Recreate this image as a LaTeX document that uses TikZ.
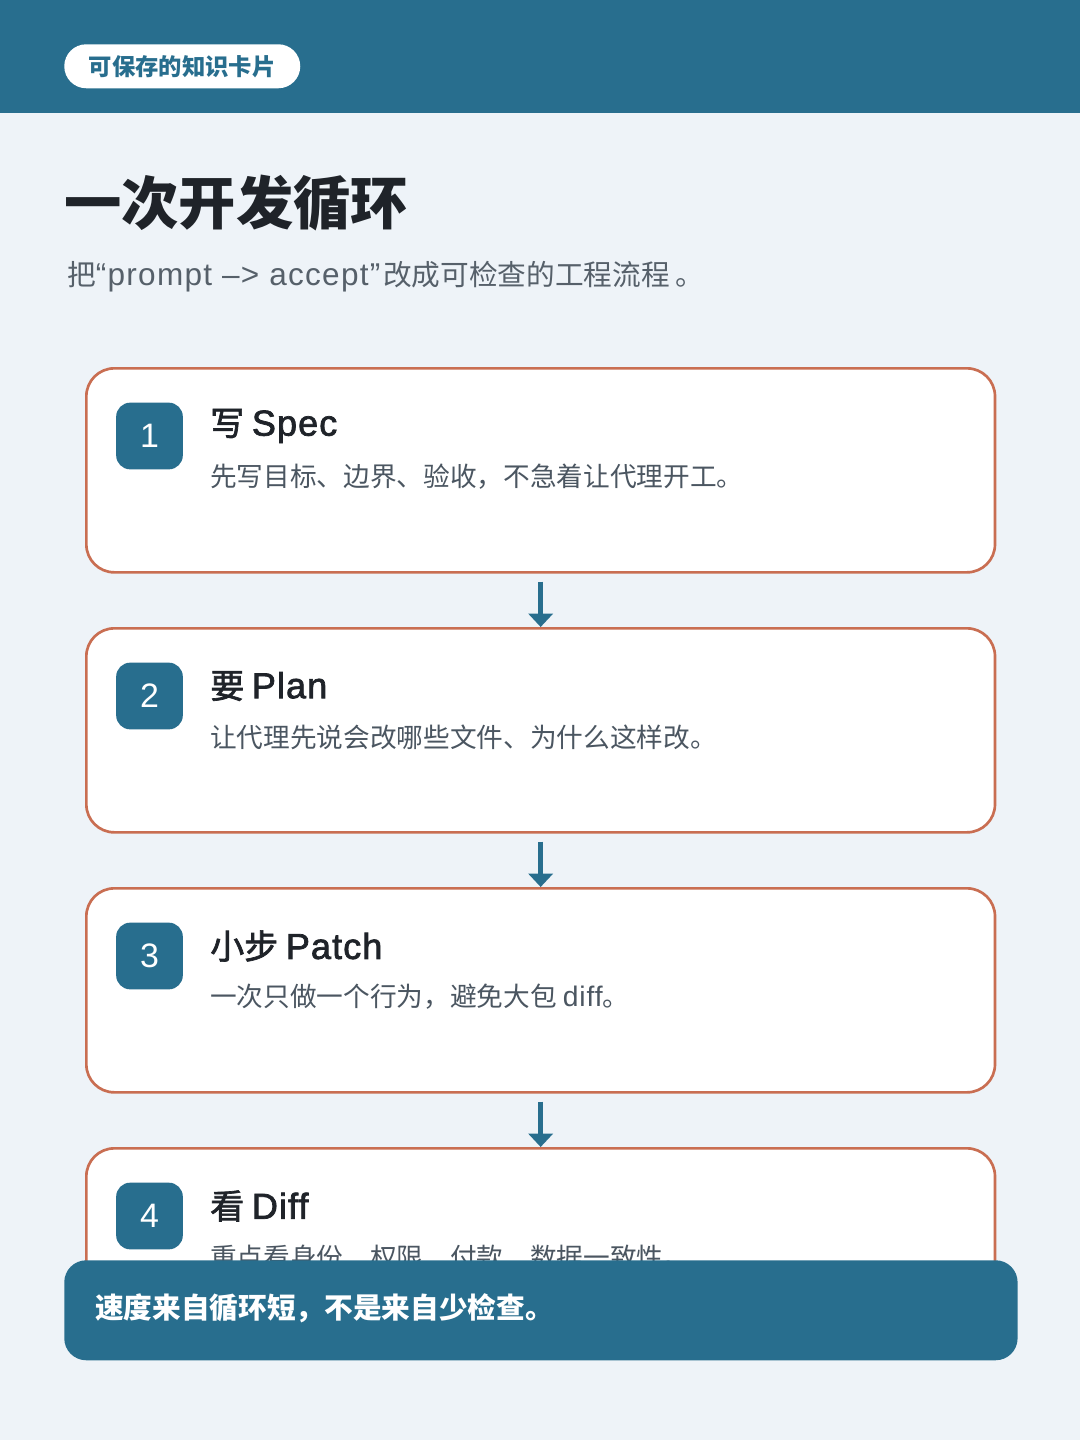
\documentclass[tikz,border=0pt]{standalone}
\usepackage{fontspec}
\setmainfont{Noto Sans CJK SC}
\newfontfamily\med[FakeBold=2]{Noto Sans CJK SC}
\newfontfamily\lat[Scale=1.06,LetterSpace=3]{Liberation Sans}
\newfontfamily\latsub[Scale=1.1,LetterSpace=4]{Liberation Sans}
\newfontfamily\latmed[FakeBold=2,Scale=1.06,LetterSpace=3]{Liberation Sans}
\usetikzlibrary{arrows.meta}
\definecolor{bgc}{HTML}{EEF3F8}
\definecolor{teal}{HTML}{286E8E}
\definecolor{edge}{HTML}{C96E52}
\definecolor{dark}{HTML}{1F2329}
\definecolor{subg}{HTML}{56606A}
\definecolor{descg}{HTML}{4B5661}
\tikzset{
  card/.style={draw=edge, line width=2pt, fill=white, rounded corners=21pt,
    minimum width=681.5pt, minimum height=153pt, inner sep=0pt},
  numbox/.style={fill=teal, rounded corners=10.5pt, minimum width=50pt,
    minimum height=50pt, inner sep=0pt, text=white, font=\fontsize{24}{28}\selectfont\lat},
  ctitle/.style={anchor=west, inner sep=0pt, text=dark, font=\fontsize{25.5}{30}\selectfont\med},
  cdesc/.style={anchor=west, inner sep=0pt, text=descg, font=\fontsize{20}{24}\selectfont},
  flow/.style={draw=teal, line width=3.75pt, -{Triangle[width=18pt,length=10pt]}},
}
\begin{document}
\begin{tikzpicture}[x=0.75pt,y=-0.75pt]
\useasboundingbox (0,0) rectangle (1080,1440);
\fill[bgc] (0,0) rectangle (1080,1440);
\fill[teal] (0,0) rectangle (1080,113);
\node[fill=white, rounded corners=16.5pt, minimum width=177pt, minimum height=33pt,
  inner sep=0pt, anchor=north west, text=teal, font=\fontsize{17.5}{20}\selectfont\bfseries]
  (badge) at (64,44) {可保存的知识卡片};
\node[anchor=west, inner sep=0pt, text=dark, font=\fontsize{43}{50}\selectfont\bfseries]
  (title) at (64,203) {一次开发循环};
\node[anchor=west, inner sep=0pt, text=subg, font=\fontsize{21.5}{26}\selectfont]
  (sub) at (67,277) {把{\latsub“prompt –> accept”\hspace{2pt}}改成可检查的工程流程{\hspace{4pt}}。};
% card 1
\node[card, anchor=north west] (c1) at (85,367) {};
\node[numbox] (n1) at (149.5,436) {1};
\node[ctitle] (t1) at (210,426) {写 {\latmed Spec}};
\node[cdesc] (d1) at (210,477) {先写目标、边界、验收，不急着让代理开工。};
% card 2
\node[card, anchor=north west] (c2) at (85,627) {};
\node[numbox] (n2) at (149.5,696) {2};
\node[ctitle] (t2) at (210,686) {要 {\latmed Plan}};
\node[cdesc] (d2) at (210,737) {让代理先说会改哪些文件、为什么这样改。};
% card 3
\node[card, anchor=north west] (c3) at (85,887) {};
\node[numbox] (n3) at (149.5,956) {3};
\node[ctitle] (t3) at (210,946) {小步 {\latmed Patch}};
\node[cdesc] (d3) at (210,997) {一次只做一个行为，避免大包 {\lat diff}。};
% card 4 (clipped)
\begin{scope}
\clip (0,0) rectangle (1080,1262);
\node[card, anchor=north west] (c4) at (85,1147) {};
\node[numbox] (n4) at (149.5,1216) {4};
\node[ctitle] (t4) at (210,1206) {看 {\latmed Diff}};
\node[cdesc] (d4) at (210,1257) {重点看身份、权限、付款、数据一致性。};
\end{scope}
% arrows
\draw[flow] ([yshift=-6pt]c1.south) -- (c2.north);
\draw[flow] ([yshift=-6pt]c2.south) -- (c3.north);
\draw[flow] ([yshift=-6pt]c3.south) -- (c4.north);
% banner
\node[fill=teal, rounded corners=16.5pt, minimum width=715pt, minimum height=75pt,
  inner sep=0pt, anchor=north west] (banner) at (64,1260) {};
\node[anchor=west, inner sep=0pt, text=white, font=\fontsize{21.5}{26}\selectfont\bfseries]
  (btext) at (95,1308) {速度来自循环短，不是来自少检查。};
\end{tikzpicture}
\end{document}
